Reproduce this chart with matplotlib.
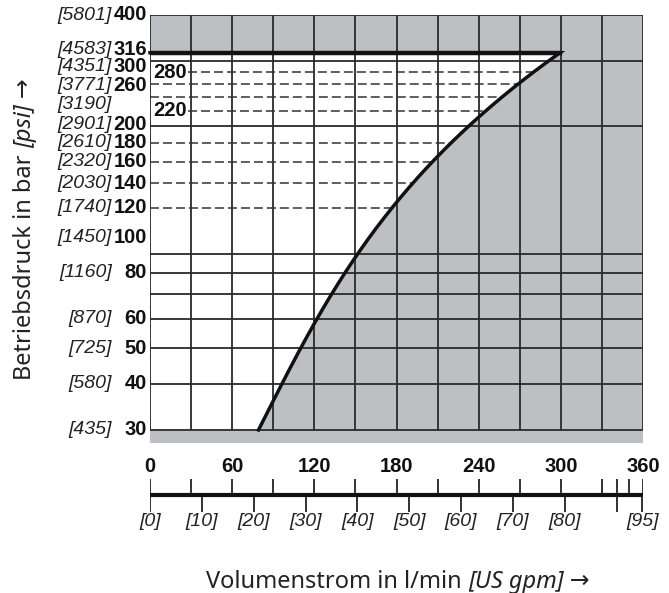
import numpy as np
import matplotlib.pyplot as plt
from matplotlib import transforms

# limit curve: operating pressure (bar) -> max. flow (l/min)
curve_bar = [30, 40, 50, 60, 70, 80, 90, 120, 140, 160, 180, 200, 220, 240, 260, 280, 300, 316]
curve_lpm = [80, 96, 109, 121, 133, 142, 151, 179, 195, 207, 219, 231, 243, 256, 268, 280, 292, 301]

max_bar = 316
grid_bar = [30, 40, 50, 60, 70, 80, 90, 200, 300, 400]
grid_lpm = [0, 30, 60, 90, 120, 150, 180, 210, 240, 270, 300, 330, 360]
dashed_bar = [120, 140, 160, 180, 240, 260]
dashed_bar_named = [220, 280]

# left scale: bar value / psi value
left_bar = [400, 316, 300, 260, 220, 200, 180, 160, 140, 120, 100, 80, 60, 50, 40, 30]
left_bar_txt = ["400", "316", "300", "260", "", "200", "180", "160", "140", "120", "100",
                "80", "60", "50", "40", "30"]
left_psi_txt = ["[5801]", "[4583]", "[4351]", "[3771]", "[3190]", "[2901]", "[2610]", "[2320]",
                "[2030]", "[1740]", "[1450]", "[1160]", "[870]", "[725]", "[580]", "[435]"]

# bottom scales
flow_ticks = [0, 30, 60, 90, 120, 150, 180, 210, 240, 270, 300, 330, 350, 360]
flow_labels = [0, 60, 120, 180, 240, 300, 360]
gpm_ticks = [0, 10, 20, 30, 40, 50, 60, 70, 80, 90, 95]
gpm_labels = [0, 10, 20, 30, 40, 50, 60, 70, 80, 95]
LPM_PER_GPM = 3.78541

W, H = 669, 593
GRAY = "#bebfc3"
INK = "#222222"
BOLD = dict(family=["Liberation Sans Narrow", "Liberation Sans", "DejaVu Sans"],
            fontweight="bold", fontsize=14.5, color="#111111")
ITAL = dict(family=["Liberation Sans", "DejaVu Sans"], fontstyle="italic",
            fontsize=14, color=INK)
TITLE = ["Noto Sans", "DejaVu Sans"]

fig = plt.figure(figsize=(W / 100, H / 100), dpi=100)
ax = fig.add_axes([150 / W, 1 - 443 / H, 493 / W, 428 / H])
ax.set_yscale("log")
ax.set_xlim(0, 360)
ax.set_ylim(30 * 10 ** (-13 / 368.9), 400)
ax.axis("off")
ax.add_patch(plt.Rectangle((0, 0), 1, 1, transform=ax.transAxes, color=GRAY, zorder=0))

# smooth limit curve through the read points
coef = np.polyfit(np.log10(curve_bar), curve_lpm, 3)
p = np.geomspace(curve_bar[0], max_bar, 300)
q = np.polyval(coef, np.log10(p))
ax.fill_betweenx(p, 0, q, color="white", lw=0, zorder=1)


def lim(v):
    return np.polyval(coef, np.log10(v))


# grid
ax.vlines(grid_lpm, 30, 400, color="#2a2a2a", lw=1.3, zorder=2)
ax.hlines(grid_bar, 0, 360, color="#2a2a2a", lw=1.3, zorder=2)

ytr = transforms.blended_transform_factory(ax.transAxes, ax.transData)
for b in dashed_bar:
    ax.plot([0, lim(b)], [b, b], color="#333333", lw=1.1, dashes=(5.9, 2.6), zorder=3)
for b in dashed_bar_named:
    ax.plot([27.5, lim(b)], [b, b], color="#333333", lw=1.1, dashes=(5.9, 2.6), zorder=3)
    ax.annotate(str(b), xy=(0.006, b), xycoords=ytr, ha="left", va="center", zorder=4, **BOLD)

# limit curve + max pressure line
ax.plot(np.r_[0, q[::-1]], np.r_[max_bar, p[::-1]], color="#111111", lw=2.5,
        solid_joinstyle="miter", zorder=5, clip_on=False)
ax.plot([0, lim(max_bar)], [max_bar, max_bar], color="#111111", lw=3.2, zorder=5)

# left labels (a few nudged so they don't collide)
shift = {316: 2.5, 300: -4, 260: -1, 220: 4.8, 200: 1.2}
for b, bt, pt in zip(left_bar, left_bar_txt, left_psi_txt):
    dy = shift.get(b, 0)
    ax.annotate(pt, xy=(-0.077, b), xycoords=ytr, xytext=(0, dy), textcoords="offset points",
                ha="right", va="center", annotation_clip=False, **ITAL)
    if bt:
        ax.annotate(bt, xy=(-0.006, b), xycoords=ytr, xytext=(0, dy), textcoords="offset points",
                    ha="right", va="center", annotation_clip=False, **BOLD)

# bottom double scale (y in pixel rows)
ax2 = fig.add_axes([150 / W, 1 - 535 / H, 493 / W, 80 / H])
ax2.set_xlim(0, 360)
ax2.set_ylim(535, 455)
ax2.axis("off")
ax2.plot([0, 360], [495, 495], color="#111111", lw=3, solid_capstyle="butt")
ax2.vlines(flow_ticks, 479, 495, color="#111111", lw=1.2)
gpm_x = np.array(gpm_ticks) * LPM_PER_GPM
ax2.vlines(gpm_x, 495, 512, color="#111111", lw=1.2)
ax2.vlines(gpm_x[gpm_ticks.index(90)], 479, 495, color="#111111", lw=1.2)
for v in flow_labels:
    ax2.text(v, 466, str(v), ha="center", va="center", clip_on=False, **BOLD)
for g in gpm_labels:
    ax2.text(g * LPM_PER_GPM, 521, f"[{g}]", ha="center", va="center", clip_on=False, **ITAL)

# axis titles, normal + italic part
fig.canvas.draw()
r = fig.canvas.get_renderer()

t1 = fig.text(0, 1 - 582 / H, "Volumenstrom in l/min ", family=TITLE, fontsize=17,
              ha="left", va="center", color=INK)
t2 = fig.text(0, 1 - 582 / H, "[US gpm] →", family=TITLE, fontsize=17, fontstyle="italic",
              ha="left", va="center", color=INK)
w1 = t1.get_window_extent(r).width
w2 = t2.get_window_extent(r).width
x0 = 398 - (w1 + w2) / 2
t1.set_x(x0 / W)
t2.set_x((x0 + w1) / W)

s1 = fig.text(25 / W, 0, "Betriebsdruck in bar ", family=TITLE, fontsize=17, rotation=90,
              ha="center", va="bottom", color=INK)
s2 = fig.text(25 / W, 0, "[psi] →", family=TITLE, fontsize=17, rotation=90, fontstyle="italic",
              ha="center", va="bottom", color=INK)
h1 = s1.get_window_extent(r).height
h2 = s2.get_window_extent(r).height
y0 = (H - 229) - (h1 + h2) / 2
s1.set_y(y0 / H)
s2.set_y((y0 + h1) / H)

fig.savefig("out.png", dpi=100)
